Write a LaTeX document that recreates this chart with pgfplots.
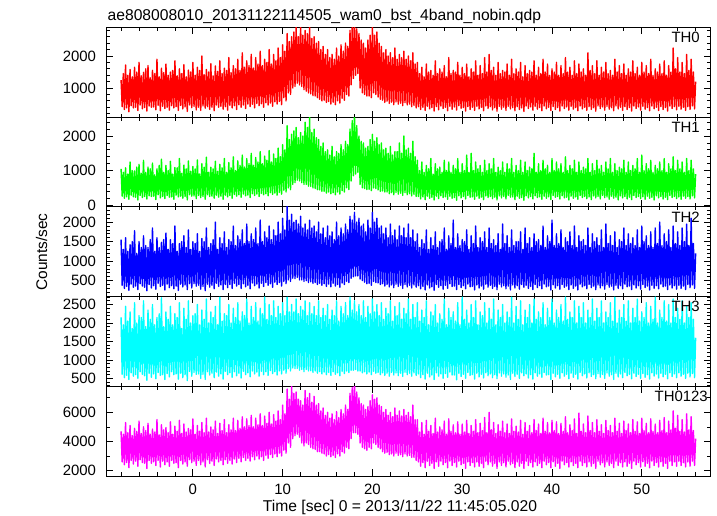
\documentclass[border=0pt]{standalone}
\usepackage{fontspec}
\setmainfont{Liberation Sans}
\usepackage{pgfplots}
\pgfplotsset{compat=1.18}
\usepackage{pgfplotstable}
\definecolor{qred}{rgb}{1,0,0}
\definecolor{qgreen}{rgb}{0,1,0}
\definecolor{qblue}{rgb}{0,0,1}
\definecolor{qcyan}{rgb}{0,1,1}
\definecolor{qmag}{rgb}{1,0,1}

\pgfplotstableread{
t r g b c m
-8.000 1250 1050 1550 2150 4700
-7.875 420 260 380 610 2600
-7.750 1450 950 1300 1950 4500
-7.625 330 200 300 520 2400
-7.500 1720 1080 1600 2450 5300
-7.375 380 240 350 580 2550
-7.250 1400 900 1250 2050 4600
-7.125 260 170 250 470 2200
-7.000 1580 1250 1420 2300 5100
-6.875 450 290 410 650 2700
-6.750 1350 1000 1500 1850 4400
-6.625 380 240 330 560 2450
-6.500 1650 990 1780 2550 4900
-6.375 400 230 360 600 2650
-6.250 1500 1100 1200 2000 4700
-6.125 300 150 270 500 2300
-6.000 1800 1180 1500 2200 5400
-5.875 470 280 420 680 2750
-5.750 1380 920 1350 2150 4550
-5.625 350 220 360 610 2550
-5.500 1490 1300 1650 2600 5000
-5.375 390 250 330 570 2500
-5.250 1600 950 1400 1900 4750
-5.125 280 180 240 450 2150
-5.000 1700 1100 1350 2350 5250
-4.875 440 270 400 640 2700
-4.750 1320 1050 1550 2100 4500
-4.625 400 250 310 530 2500
-4.500 1550 1220 1850 2500 4850
-4.375 410 260 370 620 2600
-4.250 1450 880 1250 1950 4650
-4.125 320 160 280 490 2350
-4.000 1900 1050 1600 2150 5500
-3.875 460 300 430 660 2700
-3.750 1350 1150 1350 2250 4450
-3.625 290 210 350 580 2250
-3.500 1620 1330 1480 2680 5150
-3.375 430 250 380 600 2650
-3.250 1480 950 1550 1900 4800
-3.125 360 190 260 470 2400
-3.000 1750 1150 1720 2300 4950
-2.875 400 280 410 630 2600
-2.750 1400 1000 1300 2100 4600
-2.625 310 230 320 540 2300
-2.500 1500 1270 1550 2450 5350
-2.375 450 240 370 680 2700
-2.250 1550 900 1450 1950 4500
-2.125 380 170 290 600 2500
-2.000 1850 1090 1900 2250 5050
-1.875 420 290 360 620 2550
-1.750 1380 1080 1250 2150 4700
-1.625 300 240 250 480 2200
-1.500 1600 1350 1450 2550 5450
-1.375 460 260 410 640 2700
-1.250 1450 920 1500 1850 4550
-1.125 350 200 340 520 2450
-1.000 1730 1160 1650 2400 5200
-0.875 410 250 390 600 2600
-0.750 1350 1050 1350 2100 4650
-0.625 270 150 270 440 2300
-0.500 1560 1280 1800 2600 4900
-0.375 470 300 420 690 2750
-0.250 1500 980 1300 2000 4800
-0.125 390 260 310 560 2550
0.000 1800 1120 1500 2200 5550
0.125 430 270 420 660 2650
0.250 1400 1050 1450 2250 4500
0.375 320 190 360 610 2350
0.500 1650 1310 1700 2500 5100
0.625 400 280 380 620 2700
0.750 1550 900 1250 1950 4700
0.875 300 220 280 500 2400
1.000 2000 1200 1580 2350 5300
1.125 440 250 350 610 2600
1.250 1420 1100 1500 2100 4600
1.375 370 170 240 470 2250
1.500 1580 1390 1850 2650 5600
1.625 420 300 410 680 2750
1.750 1500 950 1350 2000 4650
1.875 330 250 330 590 2500
2.000 1760 1100 1450 2300 5000
2.125 400 260 380 640 2650
2.250 1380 1050 1550 2150 4800
2.375 290 200 290 520 2350
2.500 1690 1270 2000 2450 5400
2.625 470 290 430 670 2800
2.750 1520 980 1300 1950 4550
2.875 400 230 350 560 2600
3.000 1850 1180 1600 2700 5250
3.125 430 260 390 620 2700
3.250 1450 1080 1450 2050 4750
3.375 340 170 270 480 2400
3.500 1620 1350 1750 2250 5500
3.625 420 290 400 690 2750
3.750 1550 950 1350 2200 4600
3.875 310 240 320 600 2500
4.000 1950 1230 1550 2500 5150
4.125 460 280 400 650 2700
4.250 1480 1080 1500 2000 4800
4.375 380 200 300 530 2450
4.500 1700 1400 1900 2400 5600
4.625 450 310 430 680 2800
4.750 1600 1000 1400 2150 4750
4.875 330 260 360 570 2550
5.000 1900 1280 1650 2550 5450
5.125 480 300 400 640 2850
5.250 1550 1150 1550 2050 4900
5.375 400 230 300 510 2600
5.500 2100 1450 1800 2300 5700
5.625 470 320 420 690 2900
5.750 1650 1100 1450 2200 5000
5.875 360 270 340 600 2700
6.000 1850 1350 1950 2650 5550
6.125 500 290 380 650 2850
6.250 1700 1200 1500 2000 5100
6.375 420 220 290 540 2650
6.500 2050 1500 1700 2450 5800
6.625 490 330 440 700 2950
6.750 1620 1150 1550 2150 5000
6.875 380 280 370 620 2750
7.000 1950 1380 1850 2550 5600
7.125 520 320 410 670 3000
7.250 1750 1250 1450 2050 5150
7.375 450 250 310 560 2800
7.500 2150 1550 2050 2400 5900
7.625 510 340 430 690 2950
7.750 1700 1200 1500 2250 5100
7.875 400 300 350 600 2700
8.000 1900 1420 1750 2700 5750
8.125 540 330 450 680 3050
8.250 1800 1300 1600 2100 5250
8.375 470 270 380 580 2850
8.500 2200 1580 1900 2500 6000
8.625 530 360 420 710 3100
8.750 1750 1250 1550 2200 5200
8.875 430 310 330 630 2900
9.000 2050 1480 1800 2600 5850
9.125 570 350 460 680 3150
9.250 1850 1350 1650 2150 5400
9.375 500 290 400 590 2950
9.500 2250 1650 2000 2450 6100
9.625 580 370 450 700 3200
9.750 1950 1400 1700 2250 5500
9.875 480 320 360 620 3000
10.000 2350 1750 2100 2550 6500
10.125 700 430 480 720 3400
10.250 2150 1600 1800 2200 5900
10.375 600 380 420 640 3200
10.500 2700 2300 2400 2700 7600
10.625 850 500 520 760 3900
10.750 2450 1900 2050 2300 6900
10.875 800 450 480 700 3600
11.000 2600 2050 2200 2500 7900
11.125 1000 600 560 780 4200
11.250 2750 2150 2000 2300 7300
11.375 1050 650 550 760 4400
11.500 2900 2250 2050 2650 7400
11.625 1150 720 580 770 4500
11.750 2600 1950 1950 2250 6900
11.875 1100 700 520 720 4300
12.000 3000 2100 2150 2450 6800
12.125 1050 650 520 740 3900
12.250 2650 2000 1850 2350 6500
12.375 950 600 480 680 3700
12.500 2800 2400 1950 2600 7500
12.625 900 600 500 740 3900
12.750 2700 2250 1800 2200 7000
12.875 850 550 450 700 3800
13.000 2950 2550 2050 2550 7300
13.125 820 540 470 710 3600
13.250 2550 2100 1850 2250 6700
13.375 760 500 430 660 3500
13.500 2600 2200 1900 2450 7100
13.625 750 480 450 700 3450
13.750 2400 1950 1750 2200 6500
13.875 700 450 400 640 3300
14.000 2450 1900 2000 2600 6600
14.125 650 440 430 680 3300
14.250 2200 1700 1700 2150 6100
14.375 600 400 380 620 3200
14.500 2300 1800 1850 2400 6300
14.625 620 400 420 670 3150
14.750 2050 1550 1600 2200 5800
14.875 550 350 350 600 3000
15.000 2200 1600 1900 2500 6000
15.125 580 380 410 660 3100
15.250 1950 1450 1650 2100 5600
15.375 500 330 340 580 2950
15.500 2050 1700 1750 2350 5900
15.625 560 360 430 680 3050
15.750 1900 1400 1550 2200 5500
15.875 480 300 360 610 2900
16.000 2250 1550 2000 2600 6050
16.125 600 380 400 650 3150
16.250 2000 1500 1650 2050 5650
16.375 530 320 330 570 3000
16.500 2350 1750 1850 2450 6200
16.625 680 420 440 690 3300
16.750 2150 1600 1700 2250 5900
16.875 620 380 400 630 3200
17.000 2400 1850 1950 2550 6500
17.125 800 500 480 700 3600
17.250 2300 1750 1800 2200 6200
17.375 750 450 450 660 3500
17.500 2800 2200 2150 2700 7300
17.625 1100 700 560 720 4200
17.750 2950 2450 2050 2350 7700
17.875 1300 850 600 720 4600
18.000 3000 2600 2250 2600 8000
18.125 1400 900 620 740 4600
18.250 2850 2300 2000 2300 7400
18.375 1450 950 620 700 4500
18.500 2700 2000 2100 2500 7000
18.625 1000 600 540 700 3900
18.750 2500 1850 1900 2200 6600
18.875 850 500 500 650 3600
19.000 2400 1800 1950 2600 6500
19.125 800 480 460 680 3500
19.250 2250 1650 1750 2150 6200
19.375 750 450 420 620 3400
19.500 2500 1700 2050 2450 6400
19.625 750 460 430 670 3600
19.750 2650 1900 1850 2250 6800
19.875 700 420 380 600 3500
20.000 2900 2050 2250 2650 7200
20.125 850 500 480 690 3900
20.250 2650 1850 2000 2300 6900
20.375 800 480 450 640 3800
20.500 2750 1950 2100 2500 7000
20.625 720 440 440 660 3600
20.750 2400 1750 1850 2200 6500
20.875 650 400 400 600 3500
21.000 2300 1800 1900 2550 6400
21.125 620 410 420 650 3300
21.250 2100 1600 1700 2100 6000
21.375 550 380 360 580 3200
21.500 2200 1650 1850 2400 6200
21.625 590 380 400 640 3250
21.750 2000 1500 1600 2250 5800
21.875 520 330 340 560 3100
22.000 2100 1700 1950 2600 6000
22.125 560 360 390 660 3150
22.250 1950 1450 1650 2050 5700
22.375 480 300 320 590 3000
22.500 2250 1550 1800 2450 6300
22.625 570 370 410 650 3200
22.750 1900 1550 1550 2200 5800
22.875 500 320 350 570 3050
23.000 2050 1800 1900 2550 6100
23.125 530 350 380 640 3100
23.250 1950 1500 1650 2100 5750
23.375 450 280 300 550 2950
23.500 2150 2000 1850 2400 6200
23.625 540 360 400 670 3150
23.750 1900 1600 1600 2250 5800
23.875 470 300 340 600 3000
24.000 2000 1650 1950 2650 6000
24.125 500 330 380 640 3050
24.250 1850 1500 1600 2100 5700
24.375 420 270 310 560 2900
24.500 2100 1850 1800 2500 6500
24.625 460 310 390 650 2900
24.750 1750 1400 1500 2150 5500
24.875 380 250 330 580 2700
25.000 1800 1300 1700 2550 5500
25.125 420 250 370 620 2600
25.250 1450 1000 1350 2050 4650
25.375 330 180 290 520 2300
25.500 1650 1250 1550 2350 5300
25.625 400 240 350 600 2550
25.750 1350 950 1450 2150 4500
25.875 300 160 260 480 2200
26.000 1750 1150 1800 2600 5450
26.125 430 260 390 640 2650
26.250 1500 1050 1300 1950 4700
26.375 350 200 310 540 2350
26.500 1550 1350 1600 2300 5100
26.625 390 230 340 590 2500
26.750 1400 900 1400 2200 4550
26.875 280 150 250 470 2150
27.000 1850 1200 1750 2500 5600
27.125 420 260 400 650 2600
27.250 1450 1050 1350 2000 4650
27.375 320 190 330 560 2300
27.500 1600 1100 1500 2250 5000
27.625 440 270 370 620 2650
27.750 1500 950 1550 2100 4800
27.875 360 220 280 500 2400
28.000 1700 1300 1850 2650 5400
28.125 400 240 380 630 2550
28.250 1350 1000 1300 1950 4500
28.375 290 170 300 530 2200
28.500 1950 1250 1650 2400 5550
28.625 430 260 420 670 2650
28.750 1450 950 1450 2150 4700
28.875 340 200 350 590 2350
29.000 1550 1150 2050 2300 5150
29.125 410 220 360 590 2550
29.250 1500 1050 1350 2050 4600
29.375 310 140 270 460 2250
29.500 1800 1350 1700 2550 5350
29.625 450 270 400 640 2650
29.750 1400 950 1400 1950 4500
29.875 370 210 320 550 2400
30.000 1650 1200 1550 2700 5200
30.125 390 250 370 610 2500
30.250 1450 1000 1500 2100 4650
30.375 280 180 290 500 2150
30.500 1750 1450 1800 2350 5450
30.625 420 280 410 660 2600
30.750 1350 950 1300 2000 4550
30.875 330 230 340 580 2350
31.000 1600 1500 1650 2500 5100
31.125 400 240 350 600 2550
31.250 1500 1000 1450 2150 4700
31.375 300 170 260 480 2250
31.500 1850 1250 1900 2600 5500
31.625 430 260 390 640 2600
31.750 1400 1050 1350 1950 4600
31.875 350 200 310 540 2300
32.000 1700 1150 1600 2300 5250
32.125 400 230 360 610 2500
32.250 1450 950 1500 2200 4750
32.375 290 160 280 510 2200
32.500 1950 1300 1750 2550 5650
32.625 440 270 410 650 2650
32.750 1500 1000 1350 2000 4600
32.875 360 220 330 570 2400
33.000 2050 1200 1850 2400 6000
33.125 420 250 380 620 2600
33.250 1550 1050 1450 2100 4800
33.375 320 190 300 520 2300
33.500 1650 1350 1550 2650 5300
33.625 390 230 350 600 2500
33.750 1400 950 1400 1950 4550
33.875 280 150 270 490 2150
34.000 1800 1100 1700 2350 5150
34.125 430 270 410 650 2600
34.250 1450 1000 1300 2150 4700
34.375 340 210 340 560 2350
34.500 1550 1250 1950 2500 5400
34.625 400 250 370 620 2550
34.750 1500 950 1450 2000 4600
34.875 300 180 290 530 2250
35.000 1750 1200 1650 2300 5200
35.125 430 280 360 590 2650
35.250 1400 1050 1350 2150 4550
35.375 350 230 260 470 2400
35.500 1900 1350 1800 2700 5550
35.625 390 240 390 640 2500
35.750 1450 950 1400 2000 4700
35.875 290 160 310 550 2200
36.000 1600 1150 1500 2450 5050
36.125 420 260 370 610 2600
36.250 1500 1000 1500 2100 4650
36.375 330 200 280 500 2300
36.500 1800 1300 1750 2600 5450
36.625 380 220 400 650 2500
36.750 1350 950 1300 1950 4500
36.875 270 140 330 570 2150
37.000 1700 1250 1850 2350 5300
37.125 440 270 380 620 2650
37.250 1450 1000 1450 2150 4700
37.375 360 210 300 510 2350
37.500 1550 1100 1600 2500 5100
37.625 410 250 350 600 2550
37.750 1500 1050 1350 2000 4600
37.875 310 180 270 480 2250
38.000 1850 1500 1700 2650 5500
38.125 430 270 400 650 2600
38.250 1400 950 1500 2100 4750
38.375 340 220 320 560 2350
38.500 1650 1200 1550 2300 5200
38.625 390 240 370 620 2500
38.750 1450 1000 1400 2150 4550
38.875 290 170 290 530 2200
39.000 1900 1300 1900 2550 5600
39.125 440 260 410 660 2650
39.250 1500 1050 1350 1950 4700
39.375 350 200 340 590 2400
39.500 1750 1150 1650 2400 5300
39.625 400 240 360 600 2550
39.750 1400 950 1500 2150 4600
39.875 300 160 260 470 2200
40.000 1600 1350 2050 2650 5450
40.125 420 280 390 640 2600
40.250 1500 1000 1400 2000 4750
40.375 330 230 310 540 2300
40.500 1800 1250 1700 2350 5350
40.625 390 250 370 610 2500
40.750 1400 1050 1450 2150 4550
40.875 280 180 280 500 2150
41.000 1700 1200 1800 2500 5250
41.125 440 270 400 650 2650
41.250 1450 950 1350 2050 4700
41.375 360 210 330 560 2400
41.500 1950 1400 1600 2700 5700
41.625 410 230 360 610 2550
41.750 1500 1000 1500 2100 4600
41.875 310 150 270 490 2250
42.000 1650 1150 1750 2300 5150
42.125 430 260 390 640 2600
42.250 1400 1050 1400 2150 4750
42.375 340 200 300 530 2350
42.500 1850 1300 1900 2600 5550
42.625 390 240 360 610 2500
42.750 1450 950 1350 2000 4550
42.875 290 170 260 480 2200
43.000 1750 1250 1650 2450 5950
43.125 440 280 410 660 2650
43.250 1500 1000 1500 2150 4700
43.375 350 220 340 570 2350
43.500 1600 1100 1550 2550 5200
43.625 400 250 370 620 2550
43.750 1400 1050 1400 2000 4600
43.875 300 190 290 510 2250
44.000 2100 1350 1850 2350 5750
44.125 420 240 400 650 2600
44.250 1550 950 1350 2150 4750
44.375 330 160 320 550 2300
44.500 1700 1200 1700 2650 5300
44.625 390 270 360 600 2500
44.750 1450 1000 1500 2050 4600
44.875 280 210 270 490 2150
45.000 1850 1300 1600 2400 5500
45.125 440 250 390 630 2650
45.250 1400 1050 1400 2150 4700
45.375 360 180 310 530 2400
45.500 1650 1150 1800 2600 5150
45.625 410 280 370 610 2550
45.750 1500 950 1350 2000 4550
45.875 310 220 280 500 2250
46.000 1800 1250 1950 2300 5450
46.125 430 240 400 650 2600
46.250 1450 1050 1450 2150 4750
46.375 340 170 330 560 2350
46.500 1550 1350 1650 2550 5100
46.625 390 260 360 600 2500
46.750 1400 950 1400 2050 4600
46.875 290 200 260 470 2200
47.000 1900 1200 1750 2700 5600
47.125 440 230 380 640 2650
47.250 1500 1000 1350 2000 4700
47.375 350 150 300 540 2350
47.500 1700 1100 1550 2350 5250
47.625 400 270 370 620 2550
47.750 1450 1050 1500 2150 4550
47.875 300 210 290 520 2250
48.000 1750 1300 1850 2500 5400
48.125 420 250 410 660 2600
48.250 1400 950 1400 2050 4750
48.375 330 180 340 570 2300
48.500 1600 1250 1700 2600 5200
48.625 390 230 360 610 2500
48.750 1500 1000 1450 2000 4600
48.875 280 160 270 490 2150
49.000 1850 1150 1600 2400 5500
49.125 440 280 390 640 2650
49.250 1450 1050 1400 2150 4700
49.375 360 220 310 550 2400
49.500 1650 1350 1800 2650 5350
49.625 410 250 370 610 2550
49.750 1400 950 1350 2050 4550
49.875 310 190 280 500 2250
50.000 1800 1450 1900 2300 5600
50.125 430 240 400 630 2600
50.250 1500 1000 1500 2150 4750
50.375 340 170 320 530 2300
50.500 1700 1200 1650 2550 5250
50.625 390 260 360 600 2500
50.750 1450 1050 1400 2000 4600
50.875 290 200 260 480 2200
51.000 1900 1300 1750 2450 5550
51.125 440 230 380 650 2650
51.250 1400 950 1350 2100 4700
51.375 350 150 300 560 2350
51.500 1600 1150 1850 2700 5200
51.625 400 270 370 620 2550
51.750 1500 1050 1450 2000 4600
51.875 300 210 290 510 2250
52.000 1750 1250 2000 2350 5450
52.125 420 250 410 640 2600
52.250 1450 1000 1400 2150 4750
52.375 330 180 340 540 2300
52.500 1850 1350 1700 2600 5650
52.625 390 230 360 610 2500
52.750 1400 950 1500 2050 4600
52.875 280 160 270 490 2150
53.000 1700 1200 1800 2500 5400
53.125 440 280 390 650 2650
53.250 1500 1050 1350 2000 4800
53.375 360 220 310 550 2350
53.500 2250 1400 1900 2650 6100
53.625 420 250 370 620 2600
53.750 1600 1000 1450 2150 4900
53.875 320 190 280 520 2300
54.000 1950 1300 1750 2400 5800
54.125 430 240 380 650 2650
54.250 1500 1050 1400 2100 4700
54.375 340 170 300 560 2350
54.500 1800 1250 1850 2600 5500
54.625 400 260 360 610 2550
54.750 1450 950 1500 2000 4650
54.875 300 200 270 500 2250
55.000 2050 1350 1950 2450 5900
55.125 420 250 400 640 2600
55.250 1550 1000 1400 2150 4800
55.375 330 180 320 540 2300
55.500 1900 1300 2100 2550 5700
55.625 440 270 390 630 2650
55.750 1500 1050 1450 2100 4750
55.875 350 210 300 520 2350
56.000 1200 900 1200 1600 4200
}\lc

\pgfplotsset{
  panel/.style={
    scale only axis, width=603.3bp, height=89.7bp,
    anchor=south west,
    xmin=-9.6, xmax=57.6,
    xtick={0,10,...,50}, minor xtick={-8,-6,...,56},
    tick pos=both, tick align=inside,
    major tick length=6.5bp, minor tick length=3.5bp,
    axis line style={line width=0.8bp, black},
    every tick/.style={black, line width=0.8bp},
    tick label style={font=\fontsize{15}{18}\selectfont},
    /pgf/number format/assume math mode=true,
    /pgf/number format/set thousands separator={},
    yticklabel style={anchor=east, inner sep=0pt, xshift=-10.5bp},
    xticklabel style={anchor=north, inner sep=0pt, yshift=-7.5bp},
    every axis plot/.append style={line width=1.4bp, line join=round, line cap=butt, no markers},
  },
  noxlab/.style={xticklabels={}},
}

\begin{document}
\begin{tikzpicture}
\path[use as bounding box] (0,0) rectangle (717bp,516bp);
\fontsize{15}{18}\selectfont

\begin{axis}[panel, noxlab, at={(106.7bp,398.8bp)},
  ymin=90, ymax=2890, ytick={1000,2000}, minor ytick={200,400,...,2800}]
\addplot[qred] table[x=t,y=r]{\lc};
\end{axis}

\begin{axis}[panel, noxlab, at={(106.7bp,309.1bp)},
  ymin=-50, ymax=2545, ytick={0,1000,2000}, minor ytick={200,400,...,2400}]
\addplot[qgreen] table[x=t,y=g]{\lc};
\end{axis}

\begin{axis}[panel, noxlab, at={(106.7bp,219.4bp)},
  ymin=90, ymax=2390, ytick={500,1000,1500,2000}, minor ytick={100,200,...,2300}]
\addplot[qblue] table[x=t,y=b]{\lc};
\end{axis}

\begin{axis}[panel, noxlab, at={(106.7bp,129.7bp)},
  ymin=285, ymax=2715, ytick={500,1000,1500,2000,2500}, minor ytick={300,400,...,2700}]
\addplot[qcyan] table[x=t,y=c]{\lc};
\end{axis}

\begin{axis}[panel, at={(106.7bp,40bp)},
  ymin=1630, ymax=7790, ytick={2000,4000,6000}, minor ytick={3000,5000,7000}]
\addplot[qmag] table[x=t,y=m]{\lc};
\end{axis}

\node[anchor=north east, inner sep=0pt] at (700bp,484bp) {TH0};
\node[anchor=north east, inner sep=0pt] at (700bp,394.3bp) {TH1};
\node[anchor=north east, inner sep=0pt] at (700bp,304.6bp) {TH2};
\node[anchor=north east, inner sep=0pt] at (700bp,214.9bp) {TH3};
\node[anchor=north east, inner sep=0pt] at (708bp,125.2bp) {TH0123};

\node[anchor=base west, inner sep=0pt, font=\fontsize{15.7}{18}\selectfont] at (107.5bp,495.3bp) {ae808008010\_20131122114505\_wam0\_bst\_4band\_nobin.qdp};
\node[anchor=base, inner sep=0pt, font=\fontsize{15.7}{18}\selectfont] at (400bp,5bp) {Time [sec] 0 = 2013/11/22 11:45:05.020};
\node[rotate=90, inner sep=0pt, font=\fontsize{15.5}{18}\selectfont] at (41.5bp,264bp) {Counts/sec};
\end{tikzpicture}
\end{document}
